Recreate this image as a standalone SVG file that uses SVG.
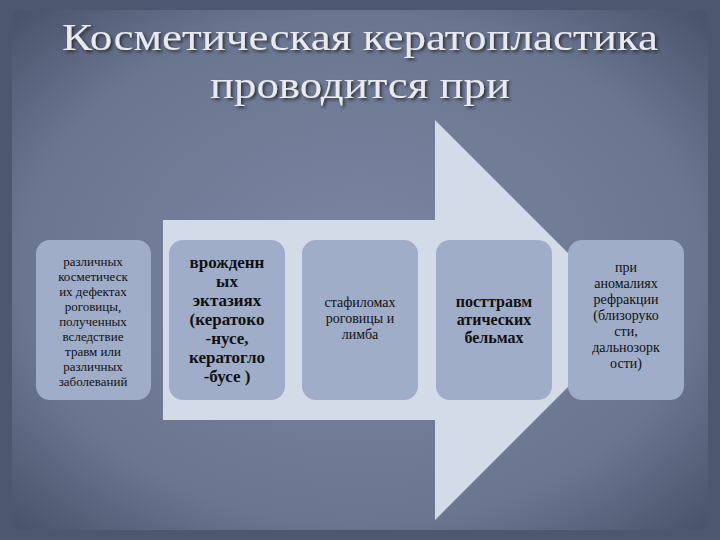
<svg xmlns="http://www.w3.org/2000/svg" width="720" height="540" viewBox="0 0 720 540">
<defs>
<radialGradient id="bg" cx="50%" cy="50%" r="70%"><stop offset="0" stop-color="#7b86a2"/><stop offset="0.7" stop-color="#6a7590"/><stop offset="1" stop-color="#4a536b"/></radialGradient>
<filter id="sh"><feDropShadow dx="2" dy="2" stdDeviation="1.5" flood-color="#222" flood-opacity="0.8"/></filter>
</defs>
<style>
.box{fill:#9fadc8;}
.t{font-family:"Liberation Serif","DejaVu Serif",serif;fill:#111;text-anchor:middle;}
.title{font-family:"Liberation Serif","DejaVu Serif",serif;font-size:38px;fill:#e8eaf0;text-anchor:middle;filter:url(#sh);}
</style>
<rect width="720" height="540" fill="#4e5770"/>
<rect x="12" y="10" width="696" height="520" rx="8" fill="url(#bg)"/>
<text class="title" x="360" y="50" textLength="596" lengthAdjust="spacingAndGlyphs">Косметическая кератопластика</text>
<text class="title" x="360" y="98" textLength="300" lengthAdjust="spacingAndGlyphs">проводится при</text>
<g id="arrow"><polygon points="163,220 435,220 435,120 635,320 435,520 435,420 163,420" fill="#d4dbe8"/></g>
<g id="n1"><rect class="box" x="36" y="240" width="115" height="160" rx="14"/>
<text class="t" font-size="13"><tspan x="93" y="266">различных</tspan><tspan x="93" y="281">косметическ</tspan><tspan x="93" y="296">их дефектах</tspan><tspan x="93" y="311">роговицы,</tspan><tspan x="93" y="326">полученных</tspan><tspan x="93" y="341">вследствие</tspan><tspan x="93" y="356">травм или</tspan><tspan x="93" y="371">различных</tspan><tspan x="93" y="386">заболеваний</tspan></text></g>
<g id="n2"><rect class="box" x="169" y="240" width="116" height="160" rx="14"/>
<text class="t" font-size="17" font-weight="bold"><tspan x="227" y="268">врожденн</tspan><tspan x="227" y="287">ых</tspan><tspan x="227" y="306">эктазиях</tspan><tspan x="227" y="325">(кератоко</tspan><tspan x="227" y="344">-нусе,</tspan><tspan x="227" y="363">кератогло</tspan><tspan x="227" y="382">-бусе )</tspan></text></g>
<g id="n3"><rect class="box" x="302" y="240" width="116" height="160" rx="14"/>
<text class="t" font-size="14"><tspan x="360" y="307">стафиломах</tspan><tspan x="360" y="323">роговицы и</tspan><tspan x="360" y="339">лимба</tspan></text></g>
<g id="n4"><rect class="box" x="436" y="240" width="116" height="160" rx="14"/>
<text class="t" font-size="16" font-weight="bold"><tspan x="494" y="307">посттравм</tspan><tspan x="494" y="325">атических</tspan><tspan x="494" y="343">бельмах</tspan></text></g>
<g id="n5"><rect class="box" x="568" y="240" width="116" height="160" rx="14"/>
<text class="t" font-size="14"><tspan x="626" y="272">при</tspan><tspan x="626" y="288">аномалиях</tspan><tspan x="626" y="304">рефракции</tspan><tspan x="626" y="320">(близоруко</tspan><tspan x="626" y="336">сти,</tspan><tspan x="626" y="352">дальнозорк</tspan><tspan x="626" y="368">ости)</tspan></text></g>
<g id="connectors"/>
</svg>
